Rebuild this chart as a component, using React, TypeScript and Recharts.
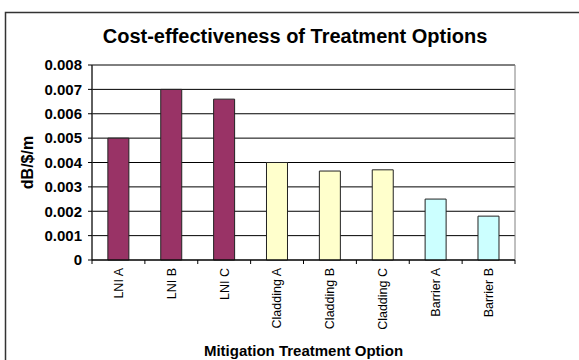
import React from 'react';
import { BarChart, Bar, XAxis, YAxis, CartesianGrid, Cell, ReferenceArea } from 'recharts';

const categories = ['LNI A', 'LNI B', 'LNI C', 'Cladding A', 'Cladding B', 'Cladding C', 'Barrier A', 'Barrier B'];
const values = [0.005, 0.007, 0.0066, 0.004, 0.00365, 0.0037, 0.0025, 0.0018];
const groups = ['LNI', 'LNI', 'LNI', 'Cladding', 'Cladding', 'Cladding', 'Barrier', 'Barrier'];
const groupColors: Record<string, string> = { LNI: '#993366', Cladding: '#FFFFCC', Barrier: '#CCFFFF' };
const yTicks = [0, 0.001, 0.002, 0.003, 0.004, 0.005, 0.006, 0.007, 0.008];

const title = 'Cost-effectiveness of Treatment Options';
const xTitle = 'Mitigation Treatment Option';
const yTitle = 'dB/$/m';

const data = categories.map((name, i) => ({ name, value: values[i], group: groups[i] }));

const FONT = '"Liberation Sans", Arial, Helvetica, sans-serif';

const XTick = (props: any) => {
  const { x, y, payload, index } = props;
  const half = payload && typeof payload.offset === 'number' && payload.offset > 0 ? payload.offset : 26.4;
  const isLast = index === categories.length - 1;
  return (
    <g>
      <line x1={x - half} y1={y} x2={x - half} y2={y + 4} stroke="#000" strokeWidth={1} />
      {isLast && <line x1={x + half} y1={y} x2={x + half} y2={y + 4} stroke="#000" strokeWidth={1} />}
      <g transform={`translate(${x},${y + 8})`}>
        <text
          transform="rotate(-90)"
          textAnchor="end"
          dy="0.35em"
          style={{ fontFamily: FONT, fontSize: 12.5 }}
          fill="#000"
        >
          {payload.value}
        </text>
      </g>
    </g>
  );
};

const YTitle = (props: any) => {
  const { viewBox } = props;
  const cy = viewBox.y + viewBox.height / 2;
  return (
    <text
      x={27}
      y={cy}
      transform={`rotate(-90, 27, ${cy})`}
      textAnchor="middle"
      dominantBaseline="central"
      style={{ fontFamily: FONT, fontWeight: 'bold', fontSize: 16 }}
      fill="#000"
    >
      {yTitle}
    </text>
  );
};

const XTitle = (props: any) => {
  const { viewBox } = props;
  return (
    <text
      x={viewBox.x + viewBox.width / 2}
      y={356}
      textAnchor="middle"
      style={{ fontFamily: FONT, fontWeight: 'bold', fontSize: 15 }}
      fill="#000"
    >
      {xTitle}
    </text>
  );
};

export default function App() {
  return (
    <div style={{ position: 'absolute', left: 0, top: 0, width: 579, height: 360, background: '#fff', fontFamily: FONT }}>
      <BarChart
        width={579}
        height={360}
        data={data}
        margin={{ top: 65, right: 64, bottom: 0, left: 0 }}
        barCategoryGap="30%"
      >
        <CartesianGrid vertical={false} stroke="#000" strokeWidth={1} />
        <ReferenceArea y1={0} y2={0.008} fill="none" stroke="#808080" strokeWidth={1} ifOverflow="visible" />
        <YAxis
          type="number"
          domain={[0, 0.008]}
          ticks={yTicks}
          width={92}
          interval={0}
          tickFormatter={(v: number) => (v === 0 ? '0' : v.toFixed(3))}
          tick={{ fontFamily: FONT, fontSize: 15, fontWeight: 'bold', fill: '#000' }}
          tickSize={4}
          tickMargin={6}
          axisLine={{ stroke: '#000' }}
          tickLine={{ stroke: '#000' }}
          label={{ content: YTitle }}
        />
        <XAxis
          dataKey="name"
          type="category"
          height={100}
          interval={0}
          tick={XTick}
          tickSize={0}
          tickMargin={0}
          tickLine={false}
          axisLine={{ stroke: '#000' }}
          label={{ content: XTitle }}
        />
        <Bar dataKey="value" stroke="#222" strokeWidth={1} isAnimationActive={false}>
          {data.map((d, i) => (
            <Cell key={i} fill={groupColors[d.group]} />
          ))}
        </Bar>
      </BarChart>
      <svg
        width={579}
        height={360}
        style={{ position: 'absolute', left: 0, top: 0, pointerEvents: 'none' }}
      >
        <rect x={5.5} y={12.5} width={620} height={400} fill="none" stroke="#333" strokeWidth={1.5} />
        <text
          x={295}
          y={43}
          textAnchor="middle"
          style={{ fontFamily: FONT, fontWeight: 'bold', fontSize: 20 }}
          fill="#000"
        >
          {title}
        </text>
      </svg>
    </div>
  );
}
